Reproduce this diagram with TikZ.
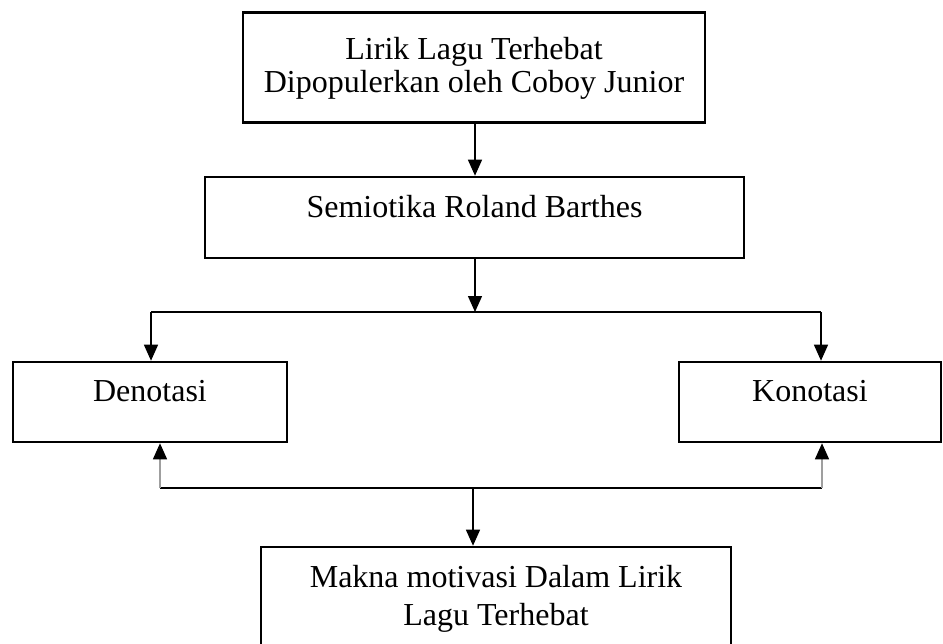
\documentclass[tikz,border=0pt]{standalone}
\usepackage{fontspec}
\setmainfont{Liberation Serif}
\usetikzlibrary{positioning,arrows.meta,calc}

\begin{document}
\begin{tikzpicture}[
        x=0.5pt, y=-0.5pt,
        font=\fontsize{16}{16}\selectfont,
        >={Triangle[length=8pt, width=7pt]},
        box/.style ={draw, line width=1.3pt, inner sep=0pt},
        txt/.style ={anchor=north, align=center, inner sep=0pt},
        rd/.style  ={->, line width=0.7pt},
        wire/.style={line width=0.7pt},
        back/.style={-{Triangle[length=8pt, width=7pt, color=black]},
                     line width=0.7pt, draw=gray!75},
    ]
    \useasboundingbox (0,0) rectangle (943,643);

    % ===================== Boxes =====================
    \node[box, minimum width=231pt, minimum height=55pt] (lirik) at (474,67.5) {};
    \node[txt] (liriktxt) at ([yshift=-13pt]lirik.north)
        {Lirik Lagu Terhebat\\[0.5pt]Dipopulerkan oleh Coboy Junior};

    \node[box, minimum width=269.5pt, minimum height=40.5pt] (semio) at (474.5,217.5) {};
    \node[txt] (semiotxt) at ([yshift=-9.5pt]semio.north) {Semiotika Roland Barthes};

    \node[box, minimum width=137pt, minimum height=40pt] (deno) at (150,402) {};
    \node[txt] (denotxt) at ([yshift=-9.5pt]deno.north) {Denotasi};

    \node[box, minimum width=131pt, minimum height=40pt] (kono) at (810,402) {};
    \node[txt] (konotxt) at ([yshift=-9.5pt]kono.north) {Konotasi};

    \node[box, minimum width=235pt, minimum height=75pt] (makna) at (496,622) {};
    \node[txt] (maknatxt) at ([yshift=-9.5pt]makna.north)
        {Makna motivasi Dalam Lirik\\[3pt]Lagu Terhebat};

    % ===================== Connectors =====================
    \coordinate (split)  at (475,312);
    \coordinate (splitL) at (151,312);
    \coordinate (splitR) at (821,312);
    \coordinate (merge)  at (473,488);
    \coordinate (mergeL) at (160,488);
    \coordinate (mergeR) at (822,488);

    \draw[rd] (lirik.south -| split) -- (semio.north -| split);
    \draw[rd] (semio.south -| split) -- (split);
    \draw[wire] (splitL) -- (splitR);
    \draw[rd] (splitL) -- (splitL |- deno.north);
    \draw[rd] (splitR) -- (splitR |- kono.north);

    \draw[wire] (mergeL) -- (mergeR);
    \draw[back] (mergeL) -- (mergeL |- deno.south);
    \draw[back] (mergeR) -- (mergeR |- kono.south);
    \draw[rd] (merge) -- (merge |- makna.north);
\end{tikzpicture}
\end{document}
